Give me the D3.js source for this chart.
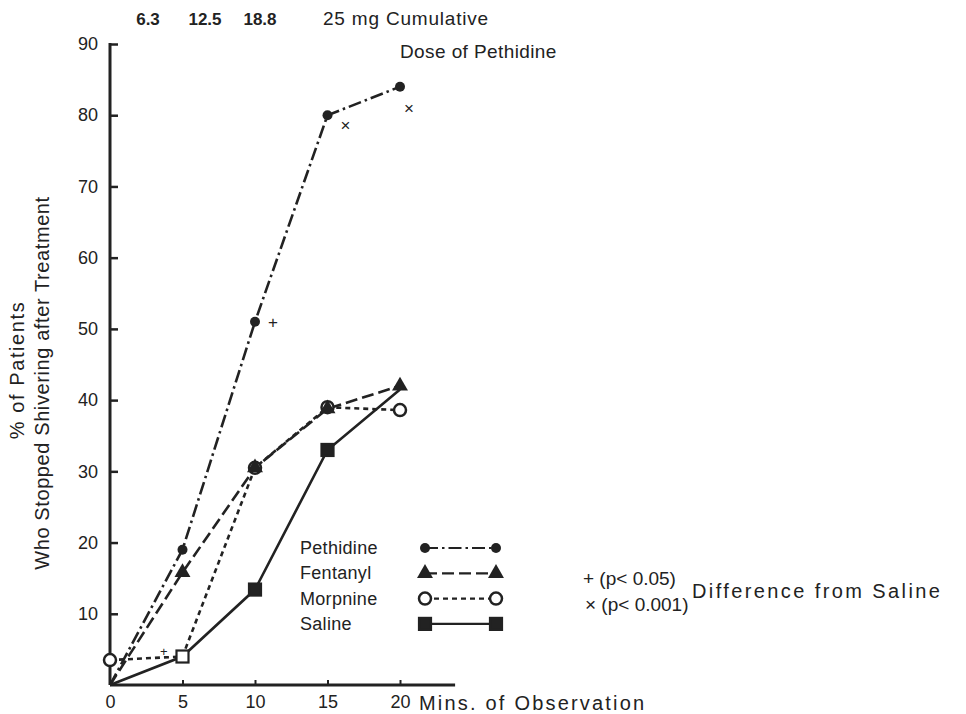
<!DOCTYPE html>
<html>
<head>
<meta charset="utf-8">
<script src="https://cdn.jsdelivr.net/npm/d3@7"></script>
<style>
  html, body { margin: 0; padding: 0; background: #fff; }
  svg { display: block; font-family: "Liberation Sans", Arial, sans-serif; }
  svg text { fill: #222; }
</style>
</head>
<body>
<svg id="chart" width="966" height="714"></svg>
<script>
// Minutes of observation and % of patients who stopped shivering
const minutes   = [0, 5, 10, 15, 20];
const pethidine = [0, 19, 51, 80, 84];
const fentanyl  = [0, 15.8, 30.5, 38.8, 42];
const morphine  = [3.5, 4, 30.5, 39, 38.6];
const saline    = [0, 4, 13.4, 33, 41.5];

// Cumulative pethidine dose (mg) at each observation
const doseLabels = ["6.3", "12.5", "18.8", "25"];

// Tick labels
const yTicks = [10, 20, 30, 40, 50, 60, 70, 80, 90];
const xTicks = [0, 5, 10, 15, 20];

// Significance markers against saline (pethidine only)
const sigMarks = [
  { t: 10, v: 51, sym: "+" },
  { t: 15, v: 80, sym: "×" },
  { t: 20, v: 84, sym: "×" }
];

const svg = d3.select("#chart");
const ink = "#222";

const x = d3.scaleLinear().domain([0, 20]).range([110, 400]);
const y = d3.scaleLinear().domain([0, 90]).range([685, 44]);

// Marker style per point: "" = none, "hollow" = open marker
const series = [
  { name: "Pethidine", values: pethidine, dash: "13,4,2.5,4", marker: "dot",      marks: ["", "f", "f", "f", "f"] },
  { name: "Fentanyl",  values: fentanyl,  dash: "12,5",       marker: "triangle", marks: ["", "f", "f", "f", "f"] },
  { name: "Morpnine",  values: morphine,  dash: "5,4",        marker: "ring",     marks: ["f", "", "f", "f", "f"] },
  { name: "Saline",    values: saline,    dash: null,         marker: "square",   marks: ["", "hollow", "f", "f", ""] }
];

function drawMarker(g, kind, cx, cy, hollow) {
  if (kind === "dot") {
    g.append("circle").attr("cx", cx).attr("cy", cy).attr("r", 5).attr("fill", ink);
  } else if (kind === "ring") {
    g.append("circle").attr("cx", cx).attr("cy", cy).attr("r", 6)
      .attr("fill", "#fff").attr("stroke", ink).attr("stroke-width", 2.5);
  } else if (kind === "triangle") {
    g.append("path").attr("d", d3.symbol(d3.symbolTriangle, 110)())
      .attr("transform", `translate(${cx},${cy})`).attr("fill", ink);
  } else if (kind === "square") {
    g.append("rect").attr("x", cx - 6).attr("y", cy - 6).attr("width", 12).attr("height", 12)
      .attr("fill", hollow ? "#fff" : ink).attr("stroke", ink).attr("stroke-width", 2.2);
  }
}

// Axes
const yAxis = d3.axisLeft(y).tickValues(yTicks).tickSize(-8).tickPadding(12);
const gy = svg.append("g").attr("transform", `translate(${x(0)},0)`).call(yAxis);
gy.select(".domain").remove();
gy.selectAll(".tick line").attr("stroke", ink).attr("stroke-width", 2.5);
gy.selectAll(".tick text").attr("font-size", 18).style("fill", ink);

const xAxis = d3.axisBottom(x).tickValues(xTicks).tickSize(-5).tickPadding(10);
const gx = svg.append("g").attr("transform", `translate(0,${y(0)})`).call(xAxis);
gx.select(".domain").remove();
gx.selectAll(".tick line").attr("stroke", ink).attr("stroke-width", 2);
gx.selectAll(".tick text").attr("font-size", 18).style("fill", ink);
gx.selectAll(".tick").filter(d => d === 0).select("line").remove();

// Axis lines
svg.append("line").attr("x1", x(0)).attr("x2", x(0)).attr("y1", y(90) - 1).attr("y2", y(0))
  .attr("stroke", ink).attr("stroke-width", 3);
svg.append("line").attr("x1", x(0)).attr("x2", x(23.8)).attr("y1", y(0)).attr("y2", y(0))
  .attr("stroke", ink).attr("stroke-width", 3);

// X axis title beside the last tick
svg.append("text").attr("x", x(20) + 19).attr("y", y(0) + 25)
  .attr("font-size", 20).attr("letter-spacing", 2.2).text("Mins. of Observation");

// Y axis title
svg.append("text").attr("transform", `translate(24,370) rotate(-90)`)
  .attr("text-anchor", "middle").attr("font-size", 20).attr("letter-spacing", 1.6)
  .text("% of Patients");
svg.append("text").attr("transform", `translate(49,383) rotate(-90)`)
  .attr("text-anchor", "middle").attr("font-size", 20).attr("letter-spacing", 0.6)
  .text("Who Stopped Shivering after Treatment");

// Cumulative dose labels above the plot
const dosePos = [148, 205, 260, 323];
doseLabels.forEach((d, i) => {
  svg.append("text").attr("x", dosePos[i]).attr("y", 25)
    .attr("text-anchor", i < 3 ? "middle" : "start")
    .attr("font-size", i < 3 ? 17 : 19).attr("font-weight", i < 3 ? "bold" : "normal")
    .attr("letter-spacing", i < 3 ? 0 : 0.8)
    .text(i < 3 ? d : d + " mg Cumulative");
});
svg.append("text").attr("x", 400).attr("y", 58).attr("font-size", 19)
  .attr("letter-spacing", 0.4).text("Dose of Pethidine");

// Lines
const line = d3.line().x((d, i) => x(minutes[i])).y(d => y(d));
series.forEach(s => {
  svg.append("path").attr("d", line(s.values))
    .attr("fill", "none").attr("stroke", ink).attr("stroke-width", 2.6)
    .attr("stroke-dasharray", s.dash);
});

// Markers (saline first so the other symbols sit on top)
[3, 2, 0, 1].forEach(k => {
  const s = series[k];
  const g = svg.append("g");
  s.values.forEach((v, i) => {
    if (!s.marks[i]) return;
    drawMarker(g, s.marker, x(minutes[i]), y(v), s.marks[i] === "hollow");
  });
});

// Significance symbols beside pethidine points
const sigOffset = [[13, 6], [13, 16], [4, 27]];
sigMarks.forEach((m, i) => {
  svg.append("text").attr("x", x(m.t) + sigOffset[i][0]).attr("y", y(m.v) + sigOffset[i][1])
    .attr("font-size", 17).text(m.sym);
});
svg.append("text").attr("x", 160).attr("y", 656).attr("font-size", 13).text("+");

// Legend
const legend = svg.append("g");
const legY0 = 548, legStep = 25.3;
series.forEach((s, i) => {
  const ly = legY0 + i * legStep;
  legend.append("text").attr("x", 300).attr("y", ly + 6).attr("font-size", 18)
    .attr("letter-spacing", 0.3).text(s.name);
  legend.append("line").attr("x1", 425).attr("x2", 496).attr("y1", ly).attr("y2", ly)
    .attr("stroke", ink).attr("stroke-width", 2.2).attr("stroke-dasharray", s.dash);
  drawMarker(legend, s.marker, 425, ly, false);
  drawMarker(legend, s.marker, 496, ly, false);
});

// Significance key
svg.append("text").attr("x", 583).attr("y", 585).attr("font-size", 19).text("+  (p< 0.05)");
svg.append("text").attr("x", 585).attr("y", 611).attr("font-size", 19).text("×  (p< 0.001)");
svg.append("text").attr("x", 692).attr("y", 598).attr("font-size", 20)
  .attr("letter-spacing", 2.4).text("Difference from Saline");
</script>
</body>
</html>
